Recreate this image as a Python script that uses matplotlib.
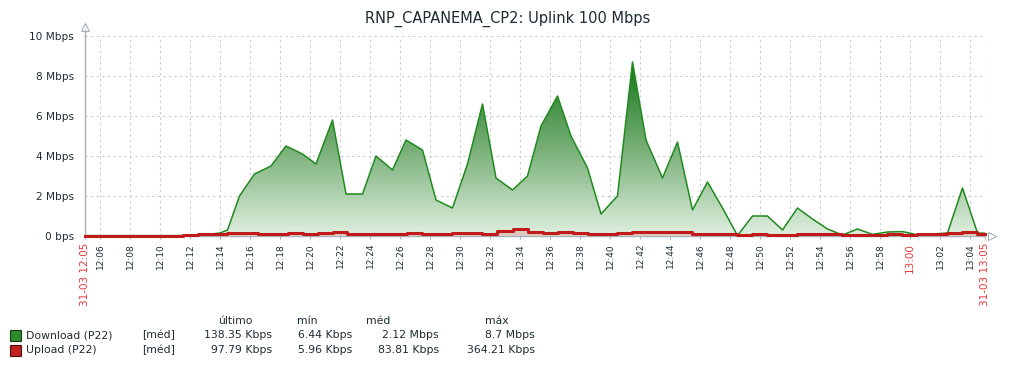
import numpy as np
import matplotlib
matplotlib.use("Agg")
import matplotlib.pyplot as plt
from matplotlib.colors import LinearSegmentedColormap
from matplotlib.patches import Rectangle

# minutes after 12:05
dl_min = [0, 1, 2, 3, 4, 5, 6, 7, 8, 9, 9.5,
          10.3, 11.3, 12.4, 13.4, 14.5, 15.4, 16.5, 17.4, 18.5, 19.4,
          20.5, 21.4, 22.5, 23.4, 24.5, 25.5, 26.5, 27.4, 28.5, 29.5,
          30.4, 31.5, 32.4, 33.5, 34.4, 35.5, 36.5, 37.4, 38.5, 39.5,
          40.5, 41.5, 42.5, 43.5, 44.5, 45.5, 46.5, 47.5, 48.5, 49.5,
          50.5, 51.5, 52.5, 53.5, 54.5, 55.5, 56.5, 57.5, 58.5, 59.5, 60]
download = [0.02, 0.02, 0.02, 0.02, 0.02, 0.02, 0.02, 0.03, 0.06, 0.15, 0.3,
            2.0, 3.1, 3.5, 4.5, 4.1, 3.6, 5.8, 2.1, 2.1, 4.0,
            3.3, 4.8, 4.3, 1.8, 1.4, 3.6, 6.6, 2.9, 2.3, 3.0,
            5.5, 7.0, 5.0, 3.4, 1.1, 2.0, 8.7, 4.8, 2.9, 4.7,
            1.3, 2.7, 1.4, 0.02, 1.0, 1.0, 0.3, 1.4, 0.85, 0.35,
            0.05, 0.35, 0.08, 0.2, 0.22, 0.06, 0.1, 0.15, 2.4, 0.15, 0.14]

up_min = list(range(61))
upload = [0.02, 0.02, 0.02, 0.02, 0.02, 0.02, 0.02,
          0.07, 0.1, 0.09, 0.13, 0.15, 0.12, 0.08, 0.15, 0.12, 0.13,
          0.22, 0.1, 0.12, 0.12, 0.12, 0.15, 0.1, 0.12, 0.13, 0.15,
          0.12, 0.25, 0.36, 0.18, 0.15, 0.2, 0.15, 0.12, 0.12, 0.15,
          0.2, 0.2, 0.22, 0.2, 0.1, 0.12, 0.08, 0.05, 0.08, 0.07,
          0.05, 0.08, 0.08, 0.08, 0.03, 0.05, 0.07, 0.08, 0.05, 0.1,
          0.1, 0.15, 0.18, 0.1]

y_ticks = [0, 2, 4, 6, 8, 10]
y_labels = ["0 bps", "2 Mbps", "4 Mbps", "6 Mbps", "8 Mbps", "10 Mbps"]

x_ticks = list(range(1, 60, 2))
x_labels = ["12:06", "12:08", "12:10", "12:12", "12:14", "12:16", "12:18", "12:20",
            "12:22", "12:24", "12:26", "12:28", "12:30", "12:32", "12:34", "12:36",
            "12:38", "12:40", "12:42", "12:44", "12:46", "12:48", "12:50", "12:52",
            "12:54", "12:56", "12:58", "13:00", "13:02", "13:04"]
start_label = "31-03 12:05"
end_label = "31-03 13:05"

legend_names = ["Download (P22)", "Upload (P22)"]
legend_cols = ["último", "mín", "méd", "máx"]
legend_vals = [["138.35 Kbps", "6.44 Kbps", "2.12 Mbps", "8.7 Mbps"],
               ["97.79 Kbps", "5.96 Kbps", "83.81 Kbps", "364.21 Kbps"]]

txt = "#1f2c33"
red_txt = "#e8383a"
grid_c = "#c5cbd0"
axis_c = "#a9b1b8"

W, H = 1016, 368
fig = plt.figure(figsize=(W / 100, H / 100), dpi=100)
ax = fig.add_axes([85 / W, 1 - 236 / H, 900 / W, 200 / H])

ax.set_xlim(0, 60)
ax.set_ylim(0, 10)

# gradient fill under download
cmap = LinearSegmentedColormap.from_list("g", ["#e0efe0", "#78b078", "#167516"])
ymax = max(download)
grad = np.linspace(0, 1, 256).reshape(-1, 1)
img = ax.imshow(grad, extent=[0, 60, 0, ymax], origin="lower", aspect="auto",
                cmap=cmap, zorder=1)
poly = ax.fill_between(dl_min, 0, download, color="none", lw=0)
img.set_clip_path(poly.get_paths()[0], transform=ax.transData)
ax.plot(dl_min, download, color="#1f8a1f", lw=1.1, zorder=3)

# upload
ax.fill_between(up_min, 0, upload, step="mid", color="#dcc9bf", lw=0, zorder=2)
ax.plot(up_min, upload, drawstyle="steps-mid", color="#c01a1a", lw=2.2, zorder=4,
        clip_on=False)

# grid
for x in x_ticks + [60]:
    ax.axvline(x, color=grid_c, lw=0.8, ls=(0, (2, 3)), zorder=0)
for y in y_ticks[1:]:
    ax.axhline(y, color=grid_c, lw=0.8, ls=(0, (2, 3)), zorder=0)

for s in ["top", "right"]:
    ax.spines[s].set_visible(False)
for s in ["left", "bottom"]:
    ax.spines[s].set_color(axis_c)
    ax.spines[s].set_linewidth(1.0)
    ax.spines[s].set_zorder(1.5)

# axis arrows
ax.plot([0], [10.45], marker="^", ms=6, mfc="white", mec=axis_c, mew=0.8, clip_on=False)
ax.plot([0, 0], [10, 10.3], color=axis_c, lw=1.0, clip_on=False)
ax.plot([60.5], [0], marker=">", ms=6, mfc="white", mec=axis_c, mew=0.8, clip_on=False)

ax.set_yticks(y_ticks)
ax.set_yticklabels(y_labels, fontsize=7.6, color=txt)
ax.tick_params(axis="y", length=0, pad=8)

ax.set_xticks([0] + x_ticks + [60])
ax.set_xticklabels([start_label] + x_labels + [end_label], rotation=90, va="top", ha="center")
ax.tick_params(axis="x", length=2, color=axis_c, pad=3)
for lab in ax.get_xticklabels():
    t = lab.get_text()
    if t in (start_label, end_label, "13:00"):
        lab.set_color(red_txt)
        lab.set_fontsize(7.5)
    else:
        lab.set_color(txt)
        lab.set_fontsize(6.5)

fig.text(508 / W, 1 - 19 / H, "RNP_CAPANEMA_CP2: Uplink 100 Mbps", ha="center", va="center",
         fontsize=10.5, color=txt)

# legend
def px(x, y):
    return x / W, 1 - y / H

hdr_x = [235, 307, 378, 497]
val_x = [272, 352, 439, 535]
for c, hx in zip(legend_cols, hdr_x):
    fig.text(*px(hx, 321), c, ha="center", va="center", fontsize=7.8, color=txt)

sq_colors = [("#2e8b2e", "#1a3a1a"), ("#c42020", "#4a1010")]
for i, (name, vals) in enumerate(zip(legend_names, legend_vals)):
    yy = 335 + 15 * i
    fig.patches.append(Rectangle(px(10, yy + 5.5), 11 / W, 11 / H, transform=fig.transFigure,
                                 facecolor=sq_colors[i][0], edgecolor=sq_colors[i][1], lw=0.8))
    fig.text(*px(26, yy), name, ha="left", va="center", fontsize=7.8, color=txt)
    fig.text(*px(142, yy), "[méd]", ha="left", va="center", fontsize=7.8, color=txt)
    for v, vx in zip(vals, val_x):
        fig.text(*px(vx, yy), v, ha="right", va="center", fontsize=7.8, color=txt)

fig.savefig("out.png", dpi=100)
